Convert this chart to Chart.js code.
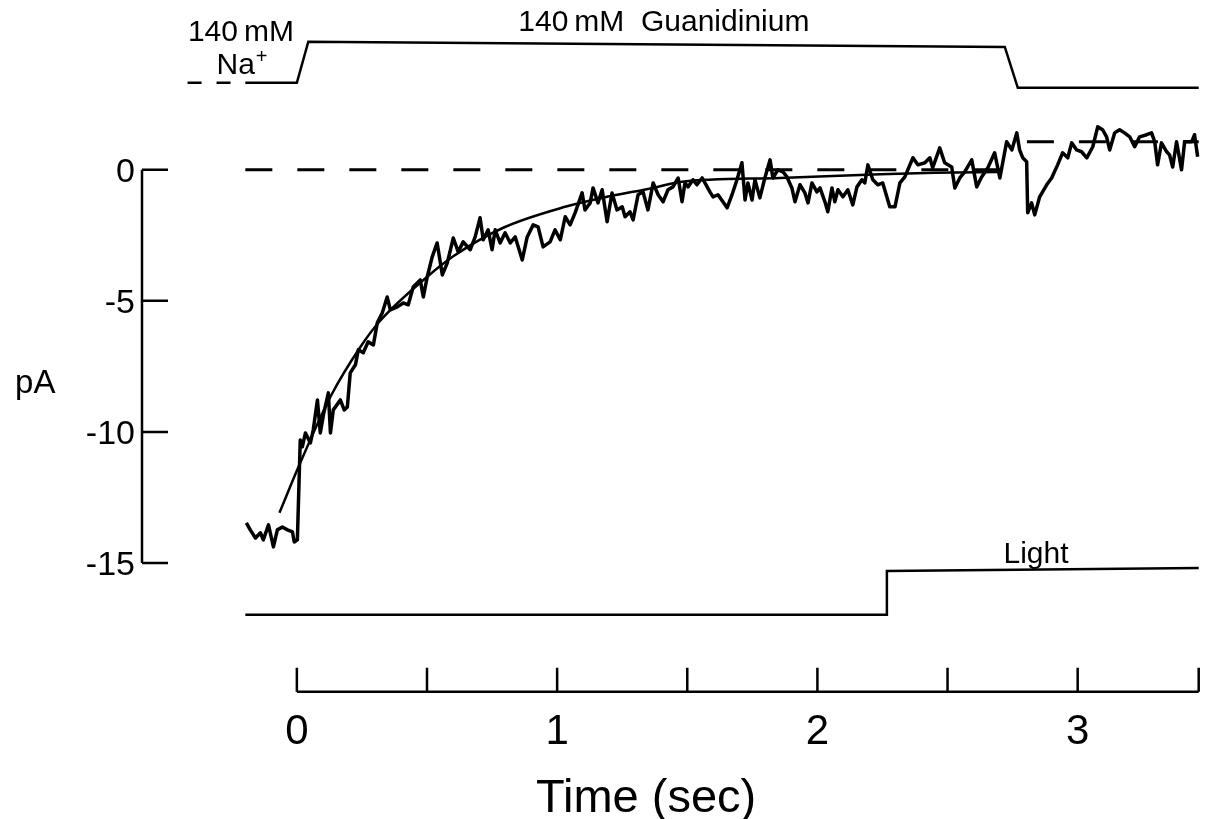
<!DOCTYPE html>
<html>
<head>
<meta charset="utf-8">
<title>Guanidinium current</title>
<script src="https://cdn.jsdelivr.net/npm/chart.js@4/dist/chart.umd.min.js"></script>
<style>
  body { margin: 0; background: #fff; }
  canvas { display: block; }
</style>
</head>
<body>
<canvas id="chartCanvas" width="1208" height="819"></canvas>
<script>
// membrane current (pA) against time (s)
const traceTime = [
    -0.194, -0.179, -0.159, -0.140, -0.129, -0.109, -0.090, -0.075, -0.056, -0.036, -0.017, -0.010, 0.002,
    0.013, 0.021, 0.033, 0.052, 0.063, 0.079, 0.090, 0.102, 0.121, 0.129, 0.140, 0.167, 0.182, 0.194, 0.205, 0.225, 0.236, 0.255,
    0.274, 0.294, 0.309, 0.328, 0.347, 0.359, 0.386, 0.409, 0.428, 0.447, 0.474, 0.486, 0.501, 0.520, 0.539,
    0.559, 0.578, 0.601, 0.620, 0.639, 0.666, 0.685, 0.704, 0.716, 0.735, 0.750, 0.762, 0.781, 0.800, 0.820, 0.839, 0.866, 0.885,
    0.908, 0.927, 0.946, 0.973, 0.992, 1.012, 1.031, 1.050, 1.069, 1.096, 1.107, 1.127, 1.138, 1.157, 1.173, 1.192, 1.211, 1.230,
    1.250, 1.261, 1.280, 1.292, 1.311, 1.330, 1.349, 1.369, 1.388, 1.407, 1.426, 1.445, 1.465,
    1.480, 1.491, 1.503, 1.522, 1.537, 1.557, 1.568, 1.587, 1.599, 1.618, 1.637, 1.653, 1.672, 1.691, 1.710, 1.722, 1.733, 1.749,
    1.760, 1.779, 1.798, 1.818, 1.829, 1.848, 1.868, 1.883, 1.902, 1.914, 1.933, 1.952, 1.964, 1.979, 1.998, 2.010, 2.029, 2.040,
    2.056, 2.067, 2.079, 2.098, 2.117, 2.136, 2.152, 2.171, 2.182, 2.194, 2.213, 2.232,
    2.251, 2.278, 2.298, 2.317, 2.336, 2.367, 2.386, 2.413, 2.432, 2.443, 2.470, 2.489, 2.516, 2.528, 2.547, 2.566, 2.593, 2.612,
    2.631, 2.655, 2.681, 2.701, 2.727, 2.747, 2.766, 2.777, 2.789, 2.804, 2.808, 2.823, 2.835, 2.854, 2.881, 2.900, 2.923, 2.942,
    2.962, 2.977, 2.996, 3.015, 3.035, 3.058, 3.077, 3.096, 3.111, 3.123, 3.142, 3.161, 3.180, 3.200, 3.219, 3.238, 3.265, 3.284,
    3.296, 3.307, 3.322, 3.342, 3.353, 3.365, 3.380, 3.399, 3.411, 3.438, 3.449, 3.461
];
const traceCurrent = [
    -13.47, -13.74, -14.05, -13.85, -14.12, -13.55, -14.39, -13.74, -13.63, -13.74, -13.82, -14.20, -14.12,
    -10.31, -10.57, -10.04, -10.42, -9.92, -8.78, -10.04, -9.35, -8.51, -10.04, -9.16, -8.78, -9.16, -9.05, -7.75, -7.44, -6.87, -6.98,
    -6.56, -6.68, -5.84, -5.46, -4.85, -5.34, -5.23, -5.08, -5.15, -4.47, -4.20, -4.85, -4.08, -3.32, -2.79,
    -4.01, -3.55, -2.60, -3.13, -2.75, -3.05, -2.56, -1.83, -2.67, -2.29, -3.05, -2.29, -2.79, -2.40, -2.79, -2.56, -3.44, -2.56,
    -2.10, -2.18, -2.94, -2.75, -2.29, -2.67, -1.79, -2.10, -1.64, -0.88, -1.53, -1.26, -0.69, -1.26, -0.76, -1.98, -0.88, -1.53,
    -1.41, -1.79, -1.60, -1.91, -0.95, -0.84, -1.53, -0.50, -0.95, -1.22, -0.76, -0.65, -0.31,
    -1.22, -0.50, -0.65, -0.38, -0.57, -0.31, -0.50, -0.84, -1.03, -0.95, -1.22, -1.45, -0.95, -0.38, 0.27, -1.15, -0.50, -1.15,
    -0.38, -1.07, -0.31, 0.38, -0.31, 0.00, -0.08, -0.27, -0.69, -1.22, -0.57, -0.88, -1.26, -0.50, -0.84, -0.69, -1.22, -1.60,
    -0.69, -1.22, -0.76, -1.03, -0.76, -1.34, -0.65, -0.38, -0.50, 0.19, -0.38, -0.57,
    -0.50, -1.41, -1.41, -0.50, -0.27, 0.46, 0.19, 0.27, 0.46, 0.08, 0.84, 0.27, 0.11, -0.69, -0.31, -0.08, 0.38, -0.65,
    -0.27, 0.08, 0.65, -0.31, 1.07, 0.76, 1.41, 0.76, 0.46, 0.31, -1.64, -1.26, -1.72, -1.03, -0.57, -0.31, 0.19, 0.65,
    0.46, 1.03, 0.76, 0.69, 0.46, 0.88, 1.64, 1.53, 1.26, 0.76, 1.41, 1.53, 1.41, 1.26, 0.88, 1.26, 1.34, 1.41,
    1.07, 0.19, 1.03, 0.69, 0.57, 0.11, 1.07, 0.00, 1.07, 1.07, 1.34, 0.50
];

// smooth exponential fit drawn over the trace
const fitTime = [-0.067, 0.013, 0.129, 0.244, 0.321, 0.501, 0.601, 0.793, 1.031, 1.192, 1.369, 1.472, 1.856, 2.190, 2.451, 2.701];
const fitCurrent = [-13.09, -11.18, -8.66, -6.76, -5.75, -4.08, -3.30, -2.21, -1.41, -1.03, -0.69, -0.46, -0.31, -0.19, -0.11, -0.08];

// zero current levels (dashed)
const zeroTime = [-0.198, 2.70];
const zeroLevel = [0, 0];
const shiftTime = [2.805, 3.465];
const shiftLevel = [1.07, 1.07];

// solution change monitor (top) and light monitor (bottom)
const naDashTime = [-0.42, -0.198];
const naDashLevel = [3.32, 3.32];
const solutionTime = [-0.198, 0.0, 0.044, 2.720, 2.770, 3.465];
const solutionLevel = [3.32, 3.32, 4.89, 4.69, 3.13, 3.13];
const lightTime = [-0.198, 2.267, 2.267, 3.465];
const lightLevel = [-16.98, -16.98, -15.31, -15.19];

// axes drawn as scale bars
const yTicks = [0, -5, -10, -15];
const xTicks = [0, 0.5, 1, 1.5, 2, 2.5, 3, 3.465];
const xTickLabels = ['0', '', '1', '', '2', '', '3', ''];
const xAxisLevel = -19.92;
const xTickTop = -19.0;
const xLabelLevel = -21.34;

const fontFamily = "'Liberation Sans', Arial, Helvetica, sans-serif";

function toPoints(xs, ys) {
    return xs.map((x, i) => ({ x: x, y: ys[i] }));
}

function lineSet(xs, ys, width, dash) {
    return {
        data: toPoints(xs, ys),
        borderColor: '#000',
        borderWidth: width,
        borderDash: dash || [],
        pointRadius: 0,
        tension: 0,
        fill: false
    };
}

// draw a text centred on a data position
function centreText(ctx, text, px, py, size) {
    ctx.font = size + 'px ' + fontFamily;
    ctx.textAlign = 'center';
    ctx.textBaseline = 'alphabetic';
    ctx.fillText(text, px, py + size * 0.358);
}

const axisPlugin = {
    id: 'axisPlugin',
    afterDatasetsDraw(chart) {
        const ctx = chart.ctx;
        const xs = chart.scales.x;
        const ys = chart.scales.y;
        const left = chart.chartArea.left;
        ctx.save();
        ctx.strokeStyle = '#000';
        ctx.fillStyle = '#000';
        ctx.lineWidth = 2.5;
        ctx.lineCap = 'butt';

        // current scale bar
        ctx.beginPath();
        ctx.moveTo(left, ys.getPixelForValue(yTicks[0]));
        ctx.lineTo(left, ys.getPixelForValue(yTicks[yTicks.length - 1]));
        yTicks.forEach(v => {
            const py = ys.getPixelForValue(v);
            ctx.moveTo(left, py);
            ctx.lineTo(left + 26, py);
        });
        ctx.stroke();
        ctx.font = '34px ' + fontFamily;
        ctx.textAlign = 'right';
        ctx.textBaseline = 'alphabetic';
        yTicks.forEach(v => {
            ctx.fillText(String(v), left - 7, ys.getPixelForValue(v) + 34 * 0.358);
        });

        // time scale bar, ticks pointing up
        const base = ys.getPixelForValue(xAxisLevel);
        const top = ys.getPixelForValue(xTickTop);
        ctx.beginPath();
        ctx.moveTo(xs.getPixelForValue(xTicks[0]), base);
        ctx.lineTo(xs.getPixelForValue(xTicks[xTicks.length - 1]), base);
        xTicks.forEach(t => {
            const px = xs.getPixelForValue(t);
            ctx.moveTo(px, base);
            ctx.lineTo(px, top);
        });
        ctx.stroke();
        xTicks.forEach((t, i) => {
            if (xTickLabels[i]) {
                centreText(ctx, xTickLabels[i], xs.getPixelForValue(t), ys.getPixelForValue(xLabelLevel), 42);
            }
        });

        // labels
        centreText(ctx, 'Time (sec)', xs.getPixelForValue(1.342), ys.getPixelForValue(-23.85), 47);
        centreText(ctx, 'pA', xs.getPixelForValue(-1.005), ys.getPixelForValue(-8.05), 33);
        centreText(ctx, 'Light', xs.getPixelForValue(2.84), ys.getPixelForValue(-14.58), 30);
        centreText(ctx, '140\u2009mM  Guanidinium', xs.getPixelForValue(1.41), ys.getPixelForValue(5.72), 30);
        centreText(ctx, '140\u2009mM', xs.getPixelForValue(-0.215), ys.getPixelForValue(5.34), 30);

        // Na+ with a raised plus
        const naX = xs.getPixelForValue(-0.235);
        const naY = ys.getPixelForValue(4.08) + 30 * 0.358;
        ctx.font = '30px ' + fontFamily;
        ctx.textAlign = 'center';
        ctx.fillText('Na', naX, naY);
        const naW = ctx.measureText('Na').width;
        ctx.font = '20px ' + fontFamily;
        ctx.textAlign = 'left';
        ctx.fillText('+', naX + naW / 2 + 1, naY - 11);
        ctx.restore();
    }
};

const context = document.getElementById('chartCanvas').getContext('2d');

const fitSet = lineSet(fitTime, fitCurrent, 2.5);
fitSet.cubicInterpolationMode = 'monotone';
const traceSet = lineSet(traceTime, traceCurrent, 3.5);
traceSet.borderJoinStyle = 'round';

const chart = new Chart(context, {
    type: 'line',
    data: {
        datasets: [
            lineSet(zeroTime, zeroLevel, 3, [27, 25]),
            lineSet(shiftTime, shiftLevel, 3, [27, 25]),
            lineSet(naDashTime, naDashLevel, 2.5, [14, 15]),
            lineSet(solutionTime, solutionLevel, 2.5),
            lineSet(lightTime, lightLevel, 2.5),
            fitSet,
            traceSet
        ]
    },
    options: {
        responsive: false,
        animation: false,
        layout: { padding: { left: 142, right: 8, top: 10, bottom: 9 } },
        plugins: {
            legend: { display: false },
            tooltip: { enabled: false }
        },
        scales: {
            x: { type: 'linear', min: -0.595, max: 3.47, display: false },
            y: { type: 'linear', min: -24.43, max: 6.10, display: false }
        }
    },
    plugins: [axisPlugin]
});
</script>
</body>
</html>
